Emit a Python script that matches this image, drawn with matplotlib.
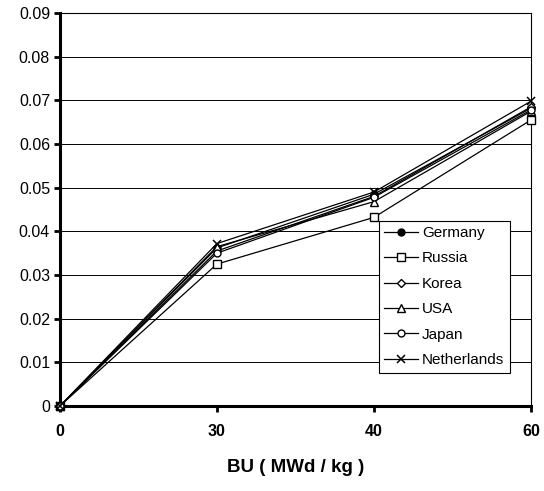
import matplotlib
matplotlib.use("Agg")
import matplotlib.pyplot as plt
import numpy as np

plt.rcParams['font.family'] = ['Liberation Sans', 'DejaVu Sans']

burnup = ['0', '30', '40', '60']
germany = [0.0, 0.0362, 0.0485, 0.0682]
russia = [0.0, 0.0325, 0.0432, 0.0655]
korea = [0.0, 0.0355, 0.0480, 0.0685]
usa = [0.0, 0.0365, 0.0468, 0.0675]
japan = [0.0, 0.0350, 0.0478, 0.0678]
netherlands = [0.0, 0.0372, 0.0490, 0.0698]

series = [
    ('Germany', germany, dict(marker='o', mfc='black', ms=5)),
    ('Russia', russia, dict(marker='s', mfc='white', ms=5.5)),
    ('Korea', korea, dict(marker='D', mfc='white', ms=4)),
    ('USA', usa, dict(marker='^', mfc='white', ms=5.5)),
    ('Japan', japan, dict(marker='o', mfc='white', ms=5)),
    ('Netherlands', netherlands, dict(marker='x', ms=6, mew=1.1)),
]

fig = plt.figure(figsize=(5.44, 4.91), dpi=100)
ax = fig.add_axes([0.110, 0.173, 0.866, 0.8005])

x = np.arange(len(burnup))
for name, vals, style in series:
    ax.plot(x, vals, color='black', lw=0.9, mec='black', label=name,
            clip_on=False, zorder=3, **style)

ax.set_xlim(0, 3)
ax.set_ylim(0, 0.09)
ax.set_yticks(np.arange(0, 0.091, 0.01))
ax.set_yticklabels(['0'] + ['%.2f' % v for v in np.arange(0.01, 0.091, 0.01)])
ax.set_xticks(x)
ax.set_xticklabels(burnup, fontweight='bold')
ax.yaxis.grid(True, color='black', lw=0.7)
ax.set_axisbelow(True)

for s in ['left', 'bottom']:
    ax.spines[s].set_linewidth(2.2)
for s in ['top', 'right']:
    ax.spines[s].set_linewidth(0.8)

ax.tick_params(axis='y', direction='out', length=4, width=2, labelsize=11.5, pad=3)
ax.tick_params(axis='x', direction='out', length=4, width=2, labelsize=11.5, pad=9)

ax.set_xlabel('BU ( MWd / kg )', fontsize=13.5, fontweight='bold', labelpad=14)

leg = ax.legend(loc='lower right', bbox_to_anchor=(0.955, 0.085), frameon=True,
                fancybox=False, edgecolor='black', framealpha=1,
                fontsize=11, handlelength=2.2, handletextpad=0.3,
                borderpad=0.35, labelspacing=0.75, borderaxespad=0)
leg.get_frame().set_linewidth(0.8)

fig.savefig('out.png', dpi=100)
